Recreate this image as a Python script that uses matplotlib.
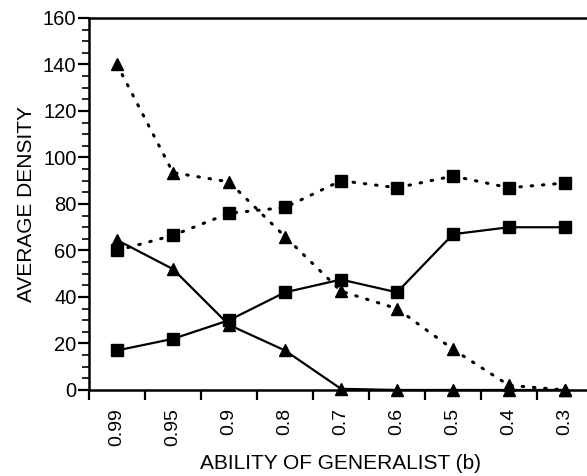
import numpy as np
import matplotlib.pyplot as plt

plt.rcParams['font.family'] = ['Liberation Sans', 'DejaVu Sans']

ability = ["0.99", "0.95", "0.9", "0.8", "0.7", "0.6", "0.5", "0.4", "0.3"]

dotted_tri = [140, 93.5, 89.5, 66, 42.5, 35, 17.5, 2, 0]
dotted_sq = [60, 66.5, 76, 78.5, 90, 87, 92, 87, 89]
solid_tri = [64.5, 52, 28, 17, 0.5, 0, 0, 0, 0]
solid_sq = [17, 22, 30, 42, 47.5, 42, 67, 70, 70]

x = np.arange(len(ability))

fig = plt.figure(figsize=(5.87, 4.76), dpi=100)
ax = fig.add_axes([0.1516, 0.1807, 0.8586, 0.7815])

dots = dict(linestyle=(0, (0.5, 3.2)), linewidth=2.2, dash_capstyle='round', color='black', clip_on=False)
solid = dict(linestyle='-', linewidth=1.6, color='black', clip_on=False)

ax.plot(x, dotted_tri, marker='^', markersize=8.5, **dots)
ax.plot(x, dotted_sq, marker='s', markersize=8, **dots)
ax.plot(x, solid_tri, marker='^', markersize=8.5, **solid)
ax.plot(x, solid_sq, marker='s', markersize=8, **solid)

ax.set_xlim(-0.5, 8.5)
ax.set_ylim(0, 160)

ax.set_xticks(x)
ax.set_xticklabels(ability, rotation=90, fontsize=14)
ax.set_xticks(np.arange(-0.5, 9, 1), minor=True)
ax.tick_params(axis='x', which='major', length=0, pad=13)
ax.tick_params(axis='x', which='minor', length=7.5, width=1.6, direction='out')

ax.set_yticks(np.arange(0, 161, 20))
ax.set_yticks(np.arange(0, 161, 5), minor=True)
ax.tick_params(axis='y', which='major', length=8, width=1.6, labelsize=14.5, pad=1)
ax.tick_params(axis='y', which='minor', length=5, width=1.2)

for s in ['left', 'bottom', 'top']:
    ax.spines[s].set_linewidth(1.8)
ax.spines['right'].set_visible(False)

ax.set_ylabel("AVERAGE DENSITY", fontsize=15, labelpad=5)
ax.set_xlabel("ABILITY OF GENERALIST (b)", fontsize=15, labelpad=6)

fig.savefig("out.png", dpi=100)
